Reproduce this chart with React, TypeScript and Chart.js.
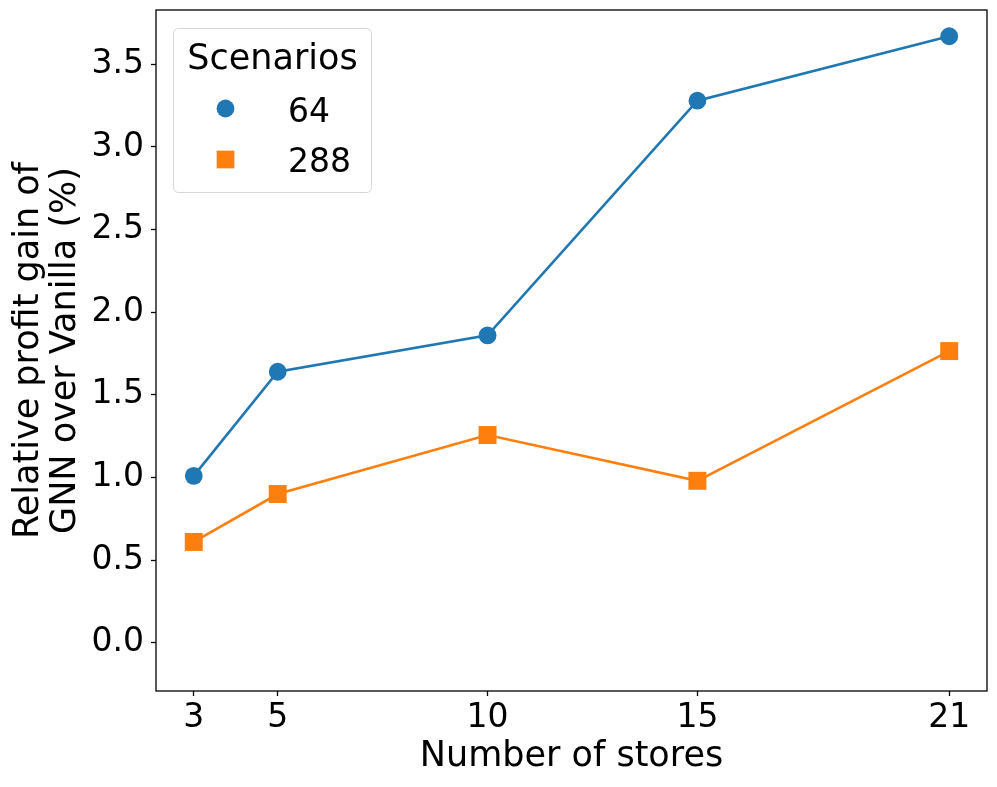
import React, { useEffect, useRef } from "react";
import { Chart, registerables } from "chart.js";

Chart.register(...registerables);

const storeCounts = [3, 5, 10, 15, 21];
const gain64 = [1.01, 1.64, 1.86, 3.28, 3.67];
const gain288 = [0.61, 0.9, 1.257, 0.98, 1.765];
const yTickValues = [0, 0.5, 1.0, 1.5, 2.0, 2.5, 3.0, 3.5];
const xTickValues = [3, 5, 10, 15, 21];
const seriesLabels = ["64", "288"];
const legendTitle = "Scenarios";

const FONT = "'DejaVu Sans', 'Liberation Sans', sans-serif";
const BLUE = "#1f77b4";
const ORANGE = "#ff7f0e";

const spinesPlugin = {
  id: "spines",
  afterDraw(chart: any) {
    const { ctx, chartArea } = chart;
    ctx.save();
    ctx.strokeStyle = "#000";
    ctx.lineWidth = 1.3;
    ctx.strokeRect(chartArea.left, chartArea.top, chartArea.right - chartArea.left, chartArea.bottom - chartArea.top);
    ctx.restore();
  },
};

const legendPlugin = {
  id: "mplLegend",
  afterDraw(chart: any) {
    const { ctx } = chart;
    const x0 = 173.5, y0 = 28.5, w = 198, h = 164, r = 5;
    ctx.save();
    ctx.beginPath();
    ctx.moveTo(x0 + r, y0);
    ctx.lineTo(x0 + w - r, y0);
    ctx.arcTo(x0 + w, y0, x0 + w, y0 + r, r);
    ctx.lineTo(x0 + w, y0 + h - r);
    ctx.arcTo(x0 + w, y0 + h, x0 + w - r, y0 + h, r);
    ctx.lineTo(x0 + r, y0 + h);
    ctx.arcTo(x0, y0 + h, x0, y0 + h - r, r);
    ctx.lineTo(x0, y0 + r);
    ctx.arcTo(x0, y0, x0 + r, y0, r);
    ctx.closePath();
    ctx.fillStyle = "rgba(255,255,255,0.8)";
    ctx.fill();
    ctx.strokeStyle = "#d6d6d6";
    ctx.lineWidth = 1;
    ctx.stroke();

    ctx.fillStyle = "#000";
    ctx.font = `35px ${FONT}`;
    ctx.textBaseline = "alphabetic";
    ctx.textAlign = "center";
    ctx.fillText(legendTitle, x0 + w / 2, 68.5);

    ctx.font = `33px ${FONT}`;
    const rows = [121.7, 172.3];
    const markerY = [108.5, 159.5];
    chart.data.datasets.forEach((ds: any, i: number) => {
      const mx = 225.5;
      const my = markerY[i];
      ctx.fillStyle = ds.pointBackgroundColor;
      if (ds.pointStyle === "rect") {
        const s = 17.7;
        ctx.fillRect(mx - s / 2, my - s / 2, s, s);
      } else {
        ctx.beginPath();
        ctx.arc(mx, my, 8.9, 0, Math.PI * 2);
        ctx.fill();
      }
      ctx.fillStyle = "#000";
      ctx.textAlign = "left";
      ctx.fillText(ds.label, 288, rows[i]);
    });
    ctx.restore();
  },
};

export default function App() {
  const canvasRef = useRef<HTMLCanvasElement | null>(null);

  useEffect(() => {
    if (!canvasRef.current) return;
    const chart = new Chart(canvasRef.current, {
      type: "line",
      data: {
        datasets: [
          {
            label: seriesLabels[0],
            data: storeCounts.map((x, i) => ({ x, y: gain64[i] })),
            borderColor: BLUE,
            backgroundColor: BLUE,
            pointBackgroundColor: BLUE,
            pointBorderColor: BLUE,
            pointBorderWidth: 0,
            pointStyle: "circle",
            pointRadius: 8.9,
            borderWidth: 2.6,
            tension: 0,
          },
          {
            label: seriesLabels[1],
            data: storeCounts.map((x, i) => ({ x, y: gain288[i] })),
            borderColor: ORANGE,
            backgroundColor: ORANGE,
            pointBackgroundColor: ORANGE,
            pointBorderColor: ORANGE,
            pointBorderWidth: 0,
            pointStyle: "rect",
            pointRadius: 12.7,
            borderWidth: 2.6,
            tension: 0,
          },
        ],
      } as any,
      options: {
        responsive: false,
        animation: false,
        layout: { autoPadding: false, padding: { left: 0, top: 10, right: 10, bottom: 0 } },
        plugins: {
          legend: { display: false },
          tooltip: { enabled: false },
        },
        scales: {
          x: {
            type: "linear",
            min: 2.1,
            max: 21.9,
            afterBuildTicks(scale: any) {
              scale.ticks = xTickValues.map((v) => ({ value: v }));
            },
            afterFit(scale: any) {
              scale.height = 96;
              scale.paddingLeft = 0;
              scale.paddingRight = 0;
            },
            grid: {
              display: true,
              drawOnChartArea: false,
              drawTicks: true,
              tickLength: 5,
              tickWidth: 1.3,
              tickColor: "#000",
            },
            border: { display: false },
            ticks: {
              color: "#000",
              font: { family: FONT, size: 33 },
              padding: 3,
              maxRotation: 0,
              autoSkip: false,
              callback: (v: any) => String(v),
            },
            title: {
              display: true,
              text: "Number of stores",
              color: "#000",
              font: { family: FONT, size: 35, lineHeight: 1.07 },
              padding: { top: 0, bottom: 11 },
            },
          },
          y: {
            type: "linear",
            min: -0.292,
            max: 3.829,
            afterBuildTicks(scale: any) {
              scale.ticks = yTickValues.map((v) => ({ value: v }));
            },
            afterFit(scale: any) {
              scale.width = 156;
              scale.paddingTop = 0;
              scale.paddingBottom = 0;
            },
            grid: {
              display: true,
              drawOnChartArea: false,
              drawTicks: true,
              tickLength: 5,
              tickWidth: 1.3,
              tickColor: "#000",
            },
            border: { display: false },
            ticks: {
              color: "#000",
              font: { family: FONT, size: 33 },
              padding: 7,
              autoSkip: false,
              callback: (v: any) => Number(v).toFixed(1),
            },
            title: {
              display: true,
              text: ["Relative profit gain of", "GNN over Vanilla (%)"],
              color: "#000",
              font: { family: FONT, size: 35, lineHeight: 1.07 },
              padding: { top: 10, bottom: 0 },
            },
          },
        },
      } as any,
      plugins: [spinesPlugin, legendPlugin],
    });
    return () => chart.destroy();
  }, []);

  return (
    <div style={{ position: "absolute", left: 0, top: 0, width: 997, height: 787, background: "#fff" }}>
      <canvas ref={canvasRef} width={997} height={787} style={{ width: 997, height: 787 }} />
    </div>
  );
}
